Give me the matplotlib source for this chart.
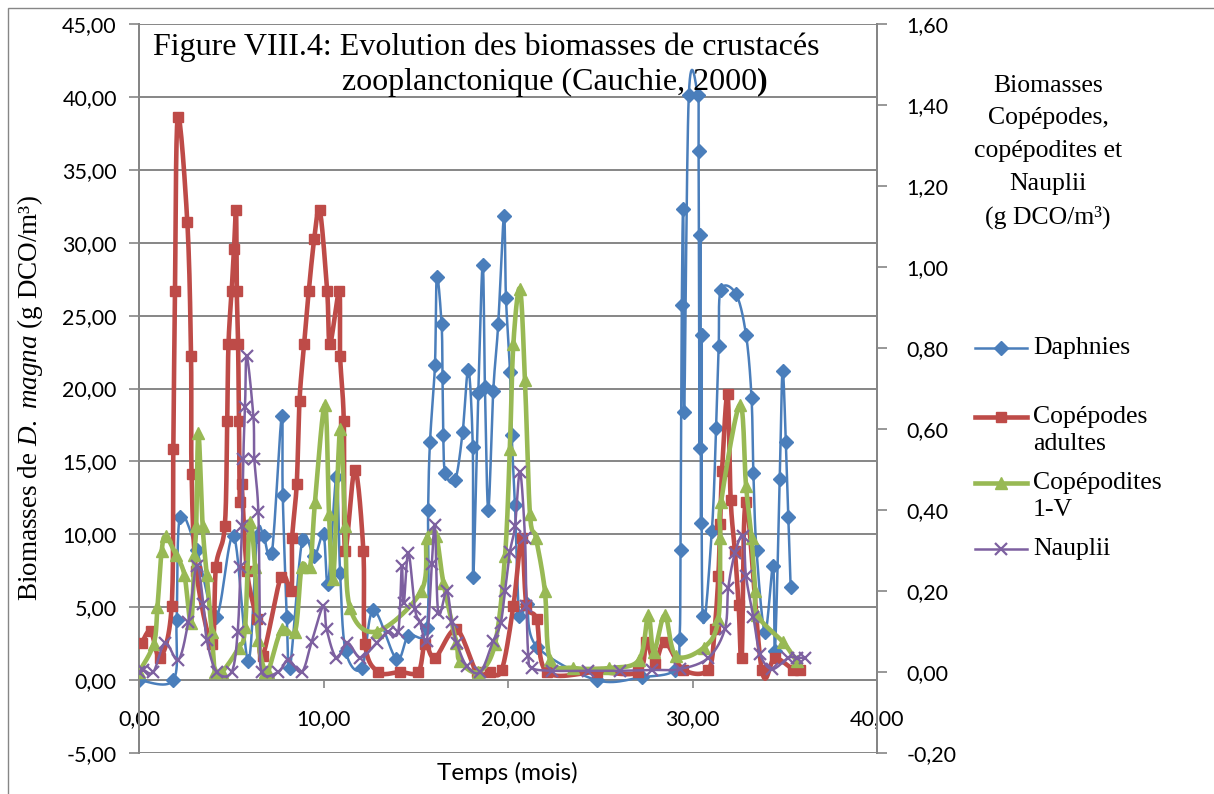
import numpy as np
import matplotlib
matplotlib.use("Agg")
import matplotlib.pyplot as plt
from matplotlib.lines import Line2D
from matplotlib.patches import Rectangle
from matplotlib.ticker import FuncFormatter, MultipleLocator

plt.rcParams['mathtext.fontset'] = 'custom'
plt.rcParams['mathtext.rm'] = 'Liberation Serif'
plt.rcParams['mathtext.it'] = 'Liberation Serif:italic'

# Daphnies (axe gauche, g DCO/m3)
daph_t = [0.00, 1.86, 2.04, 2.22, 3.13, 4.17, 5.13, 5.92, 6.40, 6.75, 7.20, 7.73, 7.79, 8.01, 8.18,
          8.85, 9.50, 10.00, 10.25, 10.70, 10.90, 11.20, 12.07, 12.70, 13.95, 14.60, 15.60, 15.67,
          15.77, 16.04, 16.14, 16.40, 16.45, 16.49, 16.60, 17.13, 17.54, 17.85, 18.09, 18.12, 18.39,
          18.63, 18.75, 18.93, 19.20, 19.47, 19.78, 19.89, 20.11, 20.20, 20.38, 20.61, 21.01, 21.56,
          24.80, 27.25, 29.05, 29.30, 29.35, 29.42, 29.50, 29.55, 29.80, 30.28, 30.33, 30.38, 30.42,
          30.46, 30.50, 30.55, 31.05, 31.28, 31.42, 31.53, 32.35, 32.90, 33.20, 33.30, 33.47, 33.93,
          34.37, 34.47, 34.73, 34.88, 35.06, 35.19, 35.32]
daph_v = [0.0, 0.0, 4.1, 11.2, 8.9, 4.3, 9.9, 1.3, 9.9, 9.9, 8.7, 18.1, 12.7, 4.3, 0.8,
          9.6, 8.5, 10.0, 6.6, 13.9, 7.35, 2.0, 0.8, 4.8, 1.45, 3.05, 3.6, 11.7,
          16.3, 21.6, 27.65, 24.4, 20.8, 16.8, 14.2, 13.7, 17.0, 21.3, 16.0, 7.1, 19.7,
          28.5, 20.1, 11.7, 19.8, 24.4, 31.8, 26.2, 21.1, 16.8, 12.0, 4.4, 5.2, 2.3,
          0.0, 0.2, 0.7, 2.8, 8.9, 25.7, 32.3, 18.4, 40.1, 40.1, 36.3, 15.9, 30.5,
          10.8, 23.7, 4.4, 10.25, 17.3, 22.9, 26.75, 26.5, 23.7, 19.35, 14.2, 8.9, 3.3,
          7.85, 2.0, 13.8, 21.2, 16.3, 11.2, 6.4]

# Copépodes adultes (axe droit)
adul_t = [0.15, 0.63, 1.15, 1.77, 1.86, 1.95, 2.10, 2.62, 2.82, 2.85, 3.10, 3.96, 4.17, 4.65, 4.78,
          4.85, 5.02, 5.15, 5.26, 5.30, 5.37, 5.42, 5.46, 5.56, 5.85, 6.38, 6.70, 7.70, 8.25, 8.30,
          8.55, 8.70, 8.95, 9.20, 9.50, 9.80, 10.20, 10.35, 10.85, 10.90, 11.10, 11.17, 11.70, 12.16,
          12.25, 12.97, 14.15, 15.14, 15.50, 16.04, 17.20, 18.30, 19.00, 19.66, 20.29, 20.74, 21.00,
          21.55, 22.10, 24.80, 27.06, 27.50, 27.95, 28.50, 29.50, 30.86, 31.20, 31.40, 31.50, 31.60,
          31.90, 32.07, 32.30, 32.50, 32.67, 32.90, 33.75, 34.47, 35.46, 35.80]
adul_v = [0.072, 0.101, 0.035, 0.163, 0.55, 0.94, 1.37, 1.11, 0.78, 0.49, 0.25, 0.07, 0.26, 0.36, 0.62,
          0.81, 0.94, 1.045, 1.14, 0.94, 0.81, 0.62, 0.42, 0.465, 0.25, 0.13, 0.04, 0.235, 0.20, 0.33,
          0.465, 0.67, 0.81, 0.94, 1.07, 1.14, 0.94, 0.81, 0.94, 0.78, 0.62, 0.30, 0.50, 0.30,
          0.07, 0.0, 0.0, 0.0, 0.07, 0.035, 0.105, 0.0, 0.0, 0.005, 0.163, 0.33, 0.166,
          0.13, 0.0, 0.0, 0.0, 0.074, 0.02, 0.074, 0.006, 0.006, 0.107, 0.236, 0.366, 0.496,
          0.687, 0.424, 0.30, 0.165, 0.035, 0.42, 0.006, 0.035, 0.006, 0.006]

# Copépodites 1-V (axe droit)
cop_t = [0.00, 0.80, 1.00, 1.23, 1.45, 1.99, 2.46, 2.82, 3.00, 3.10, 3.22, 3.45, 3.67, 3.94, 4.12,
         4.50, 5.40, 5.75, 6.00, 6.29, 6.47, 6.83, 7.00, 7.73, 8.46, 8.82, 9.27, 9.54, 10.08, 10.30,
         10.53, 10.90, 11.17, 11.44, 12.88, 15.30, 15.60, 16.10, 16.50, 17.20, 17.40, 18.40, 19.30,
         19.84, 20.10, 20.29, 20.65, 20.92, 21.19, 21.52, 22.00, 22.28, 23.50, 25.50, 27.10, 27.60,
         27.90, 28.50, 29.10, 30.60, 31.40, 31.50, 31.55, 32.57, 32.90, 33.20, 33.40, 33.50, 34.92,
         35.65]
cop_v = [0.0, 0.07, 0.16, 0.30, 0.335, 0.29, 0.24, 0.12, 0.29, 0.36, 0.59, 0.36, 0.24, 0.10, 0.0,
         0.0, 0.06, 0.11, 0.37, 0.26, 0.08, 0.0, 0.0, 0.105, 0.10, 0.26, 0.26, 0.42, 0.66, 0.39,
         0.23, 0.60, 0.36, 0.158, 0.10, 0.20, 0.33, 0.336, 0.22, 0.072, 0.026, 0.0, 0.07,
         0.287, 0.55, 0.81, 0.946, 0.72, 0.39, 0.33, 0.20, 0.03, 0.01, 0.01, 0.03, 0.14,
         0.05, 0.14, 0.04, 0.06, 0.13, 0.33, 0.42, 0.66, 0.46, 0.33, 0.20, 0.14, 0.073,
         0.026]

# Nauplii (axe droit)
naup_t = [0.00, 0.23, 0.78, 1.41, 2.13, 2.67, 3.13, 3.49, 3.67, 4.21, 5.02, 5.35, 5.50, 5.58, 5.65,
          5.75, 5.84, 6.20, 6.25, 6.47, 6.55, 6.65, 7.55, 8.09, 8.82, 9.36, 9.99, 10.17, 10.70, 11.30,
          12.00, 12.88, 13.50, 14.05, 14.24, 14.35, 14.60, 14.96, 15.23, 15.60, 15.87, 16.04, 16.22,
          16.68, 16.95, 17.22, 17.76, 18.50, 19.20, 19.60, 19.84, 20.10, 20.38, 20.65, 20.92, 21.00,
          21.10, 21.28, 22.37, 24.35, 26.07, 27.79, 29.30, 30.86, 31.76, 31.94, 32.30, 32.75, 32.90,
          33.30, 33.66, 34.30, 35.20, 35.65, 36.10]
naup_v = [0.0, 0.005, 0.0, 0.072, 0.03, 0.123, 0.262, 0.167, 0.08, 0.0, 0.0, 0.10, 0.26, 0.36, 0.527,
          0.655, 0.78, 0.63, 0.527, 0.394, 0.13, 0.0, 0.0, 0.03, 0.0, 0.075, 0.163, 0.105, 0.035, 0.072,
          0.035, 0.072, 0.10, 0.10, 0.262, 0.17, 0.295, 0.155, 0.124, 0.077, 0.266, 0.362, 0.146,
          0.20, 0.124, 0.072, 0.015, 0.0, 0.077, 0.12, 0.20, 0.296, 0.36, 0.494, 0.332, 0.163,
          0.04, 0.01, 0.003, 0.003, 0.003, 0.005, 0.007, 0.035, 0.107, 0.208, 0.294, 0.337, 0.237,
          0.136, 0.045, 0.007, 0.035, 0.035, 0.035]

BLUE = '#4A7EBB'
RED = '#BE4B48'
GREEN = '#98B954'
PURPLE = '#7D60A0'
GRID = '#868686'
SERIF = 'Liberation Serif'
SANS = 'Lato'

W, H = 1214, 794


def smooth(t, v, n=16):
    # courbe lissée type tableur (Bezier, tangentes de Catmull-Rom)
    p = np.column_stack([t, v]).astype(float)
    p = np.vstack([p[0], p, p[-1]])
    out = []
    s = np.linspace(0, 1, n)[:, None]
    for i in range(1, len(p) - 2):
        p0, p1, p2, p3 = p[i - 1], p[i], p[i + 1], p[i + 2]
        c1 = p1 + (p2 - p0) / 6
        c2 = p2 - (p3 - p1) / 6
        seg = (1 - s) ** 3 * p1 + 3 * (1 - s) ** 2 * s * c1 + 3 * (1 - s) * s ** 2 * c2 + s ** 3 * p2
        out.append(seg if i == 1 else seg[1:])
    c = np.vstack(out)
    return c[:, 0], c[:, 1]


def comma(v, pos=None):
    return f"{v:.2f}".replace('.', ',')


def fx(x):
    return x / W


def fy(y):
    return 1 - y / H


fig = plt.figure(figsize=(W / 100, H / 100), dpi=100)
ax = fig.add_axes([fx(139), fy(753), fx(877) - fx(139), fy(24) - fy(753)])
ax2 = ax.twinx()

ax.set_xlim(0, 40)
ax.set_ylim(-5, 45)
ax2.set_ylim(-0.2, 1.6)

ax.yaxis.set_major_locator(MultipleLocator(5))
ax.xaxis.set_major_locator(MultipleLocator(10))
ax2.yaxis.set_major_locator(MultipleLocator(0.2))
ax.yaxis.set_major_formatter(FuncFormatter(comma))
ax.xaxis.set_major_formatter(FuncFormatter(comma))
ax2.yaxis.set_major_formatter(FuncFormatter(comma))

ax.grid(axis='y', color=GRID, lw=1.4)
ax.set_axisbelow(True)
for a in (ax, ax2):
    for side in ('top', 'bottom'):
        a.spines[side].set_visible(False)
    a.spines['left'].set_color(GRID)
    a.spines['right'].set_color(GRID)
    a.spines['left'].set_linewidth(1.4)
    a.spines['right'].set_linewidth(1.4)
ax.spines['bottom'].set_visible(True)
ax.spines['bottom'].set_position(('data', 0))
ax.spines['bottom'].set_color(GRID)
ax.spines['bottom'].set_linewidth(1.4)

ax.tick_params(axis='y', length=7, width=1.2, color=GRID, pad=9, labelsize=15.5, labelfontfamily=SANS)
ax.tick_params(axis='x', length=6, width=1.2, color=GRID, pad=15, labelsize=15.5, labelfontfamily=SANS)
ax2.tick_params(axis='y', length=7, width=1.2, color=GRID, pad=14, labelsize=15.5, labelfontfamily=SANS)

# séries
xs, ys = smooth(daph_t, daph_v)
ax.plot(xs, ys, color=BLUE, lw=1.8, zorder=3)
ax.plot(daph_t, daph_v, ls='none', marker='D', ms=7.5, color=BLUE, mec=BLUE, zorder=3)

xs, ys = smooth(adul_t, adul_v)
ax2.plot(xs, ys, color=RED, lw=3.3, zorder=3)
ax2.plot(adul_t, adul_v, ls='none', marker='s', ms=7.5, color=RED, zorder=3)

xs, ys = smooth(cop_t, cop_v)
ax2.plot(xs, ys, color=GREEN, lw=3.3, zorder=4)
ax2.plot(cop_t, cop_v, ls='none', marker='^', ms=8, color=GREEN, zorder=4)

xs, ys = smooth(naup_t, naup_v)
ax2.plot(xs, ys, color=PURPLE, lw=1.8, zorder=5)
ax2.plot(naup_t, naup_v, ls='none', marker='x', ms=9, mew=1.6, color=PURPLE, zorder=5)

# titres et libellés
fig.text(fx(153), fy(47), "Figure VIII.4: Evolution des biomasses de crustacés",
         family=SERIF, fontsize=23, ha='left', va='center')
fig.text(fx(757), fy(82), "zooplanctonique (Cauchie, 2000",
         family=SERIF, fontsize=23, ha='right', va='center')
fig.text(fx(757), fy(82), ")", family=SERIF, fontsize=23, weight='bold', ha='left', va='center')

fig.text(fx(30), fy(398), r"Biomasses de $\mathit{D.\ magna}$ (g DCO/m³)",
         family=SERIF, fontsize=19.5, rotation=90, ha='center', va='center')
fig.text(fx(1048), fy(152), "Biomasses\nCopépodes,\ncopépodites et\nNauplii\n(g DCO/m³)",
         family=SERIF, fontsize=18.5, ha='center', va='center', linespacing=1.62, multialignment='center')
fig.text(fx(507), fy(773), "Temps (mois)", family=SANS, fontsize=17.5, ha='center', va='center')

# légende
legend_rows = [
    (348, ["Daphnies"], BLUE, 'D', 1.8, 7.5, 1.0),
    (417, ["Copépodes", "adultes"], RED, 's', 3.3, 7.5, 1.0),
    (483, ["Copépodites", "1-V"], GREEN, '^', 3.3, 8, 1.0),
    (549, ["Nauplii"], PURPLE, 'x', 1.8, 9, 1.6),
]
for y, lines, col, mk, lw, ms, mew in legend_rows:
    fig.add_artist(Line2D([fx(975), fx(1027)], [fy(y), fy(y)], color=col, lw=lw))
    fig.add_artist(Line2D([fx(1001)], [fy(y)], color=col, marker=mk, ms=ms, mew=mew, ls='none'))
    for k, txt in enumerate(lines):
        fig.text(fx(1033), fy(y + 27 * k), txt, family=SERIF, fontsize=18.5, ha='left', va='center')

# cadre du graphique
fig.add_artist(Rectangle((fx(8), -0.05), 1.1, fy(8) + 0.05, transform=fig.transFigure,
                         fill=False, ec=GRID, lw=1.0))

fig.savefig("out.png", dpi=100)
